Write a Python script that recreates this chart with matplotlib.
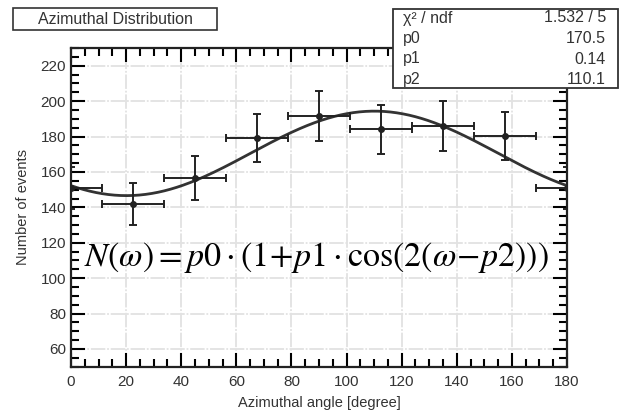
import numpy as np
import matplotlib
matplotlib.use('Agg')
import matplotlib.pyplot as plt
from matplotlib.ticker import MultipleLocator

plt.rcParams['font.family'] = ['Liberation Sans', 'DejaVu Sans']
plt.rcParams['mathtext.fontset'] = 'stix'

# measured points (bin centres, counts, errors)
angle = [0, 22.5, 45, 67.5, 90, 112.5, 135, 157.5, 180]
counts = [151, 142, 156.5, 179, 191.5, 184, 186, 180.5, 151]
count_err = [12, 12, 12.5, 13.5, 14, 14, 14, 13.5, 12]
angle_err = [11.25] * 9

# fit parameters
chi2_ndf = '1.532 / 5'
p0, p1, p2 = 170.5, 0.14, 110.1

fig = plt.figure(figsize=(6.2, 4.11), dpi=100)
ax = fig.add_axes([0.1145, 0.108, 0.8, 0.775])

ax.grid(True, color='#e2e2e2', linestyle=(0, (8, 1, 1, 1)), linewidth=1.3)
ax.set_axisbelow(True)

w = np.linspace(0, 180, 400)
fit = p0 * (1 + p1 * np.cos(np.radians(2 * (w - p2))))
ax.plot(w, fit, color='#333333', linewidth=2, zorder=3)

ax.errorbar(angle, counts, yerr=count_err, xerr=angle_err, fmt='o', color='#222222',
            markersize=4, elinewidth=1.4, capsize=3, capthick=1.4, zorder=4)

ax.set_xlim(0, 180)
ax.set_ylim(50, 230)
ax.xaxis.set_major_locator(MultipleLocator(20))
ax.xaxis.set_minor_locator(MultipleLocator(5))
ax.yaxis.set_major_locator(MultipleLocator(20))
ax.yaxis.set_minor_locator(MultipleLocator(5))
ax.tick_params(which='both', direction='in', top=True, right=True, width=1.5,
               labelsize=11, labelcolor='#333333')
ax.tick_params(which='major', length=10)
ax.tick_params(which='minor', length=5.5)
ax.tick_params(axis='x', pad=6)
for s in ax.spines.values():
    s.set_linewidth(1.6)
    s.set_color('#222222')

ax.set_xlabel('Azimuthal angle [degree]', fontsize=10.5, color='#333333', labelpad=5)
ax.set_ylabel('Number of events', fontsize=10.5, color='#333333', labelpad=8)

ax.text(0.495, 0.341,
        r'$N(\omega) = p0\cdot(1\!+\!p1\cdot\cos(2(\omega\!-\!p2)))$',
        transform=ax.transAxes, ha='center', va='center', fontsize=24.5, color='black', zorder=5)

# title box
fig.patches.append(plt.Rectangle((13 / 620, 1 - 30 / 411), 204 / 620, 22 / 411,
                                 transform=fig.transFigure, facecolor='white',
                                 edgecolor='#333333', linewidth=1.2, zorder=10))
fig.text(115 / 620, 1 - 19.5 / 411, 'Azimuthal Distribution', ha='center', va='center',
         fontsize=11.5, color='#333333', zorder=11)

# stats box
fig.patches.append(plt.Rectangle((393 / 620, 1 - 88 / 411), 225 / 620, 79 / 411,
                                 transform=fig.transFigure, facecolor='white',
                                 edgecolor='#333333', linewidth=1.3, zorder=10))
rows = [('\u03c7\u00b2 / ndf', chi2_ndf), ('p0', f'{p0}'), ('p1', f'{p1}'), ('p2', f'{p2}')]
for i, (name, val) in enumerate(rows):
    y = 1 - (18 + i * 20.5) / 411
    fig.text(403 / 620, y, name, ha='left', va='center', fontsize=11.5, color='#333333', zorder=11)
    fig.text(606 / 620, y, val, ha='right', va='center', fontsize=11.5, color='#333333', zorder=11)

fig.savefig('out.png', dpi=100)
